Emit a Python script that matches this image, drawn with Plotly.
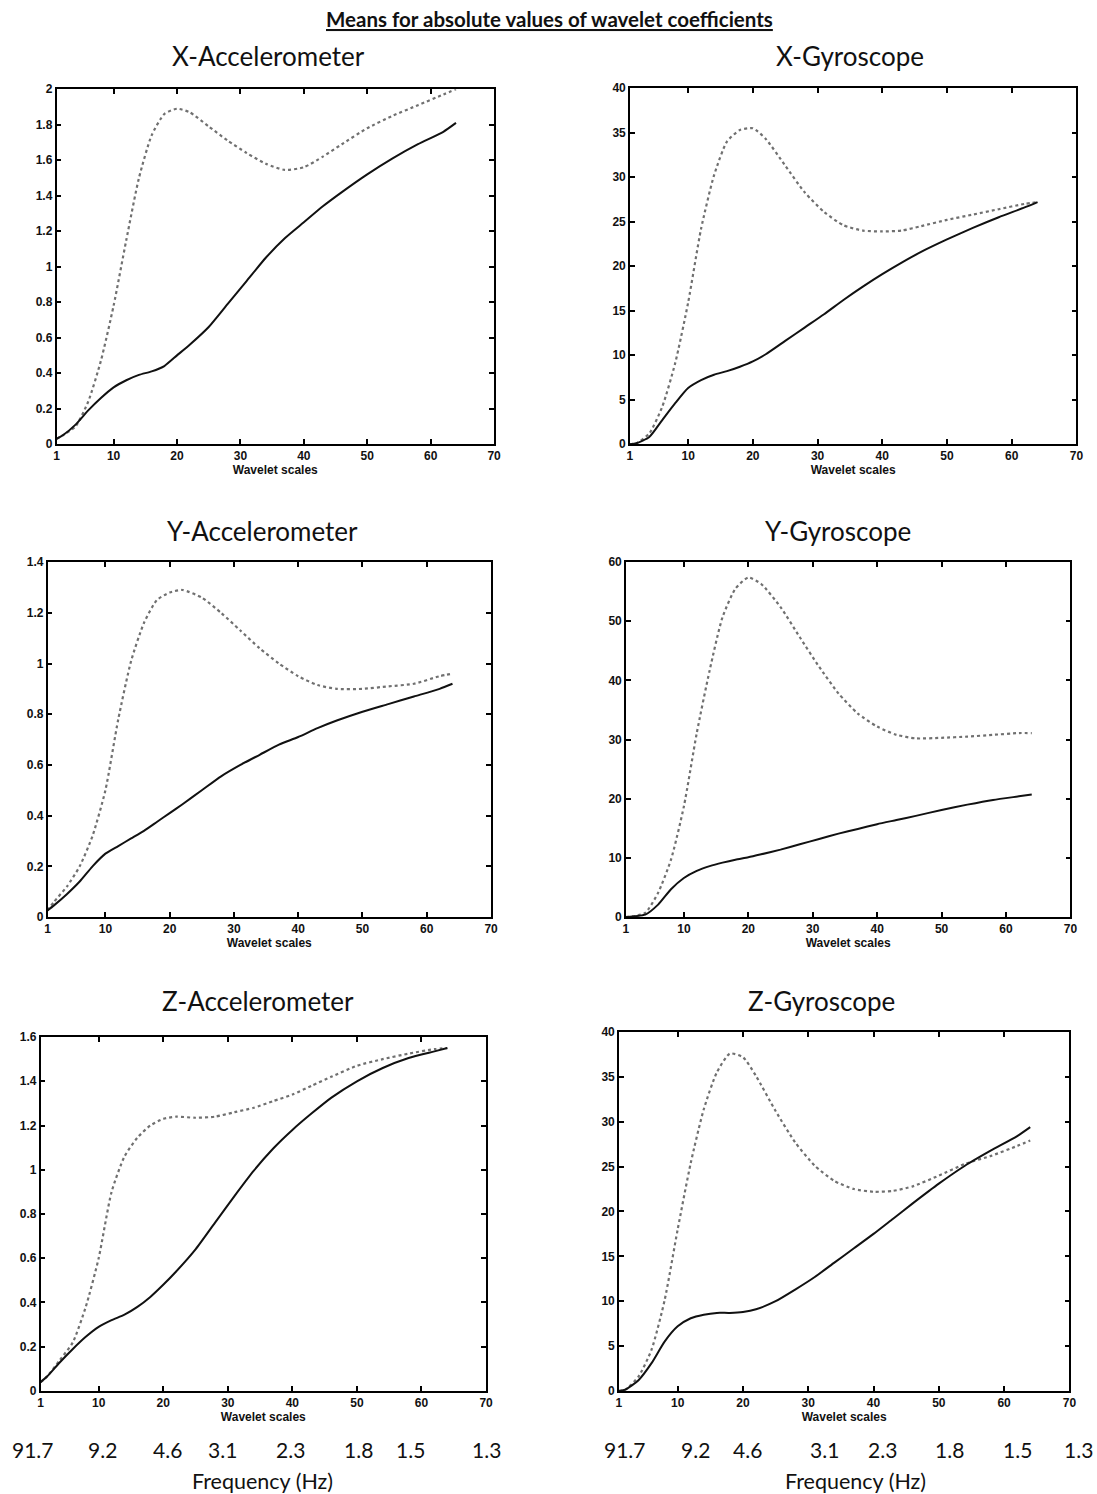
import plotly.graph_objects as go

# ---------------- data ----------------
scales = [1, 2, 4, 6, 8, 10, 12, 14, 16, 18, 20, 22, 25, 28, 31, 34, 37, 40, 43, 46, 50, 54, 58, 62, 64]

x_acc_solid = [0.03, 0.05, 0.11, 0.19, 0.26, 0.32, 0.36, 0.39, 0.41, 0.44, 0.50, 0.56, 0.66, 0.79, 0.92,
               1.05, 1.16, 1.25, 1.34, 1.42, 1.52, 1.61, 1.69, 1.76, 1.81]
x_acc_dot = [0.03, 0.05, 0.10, 0.24, 0.47, 0.78, 1.15, 1.50, 1.74, 1.86, 1.89, 1.87, 1.79, 1.71, 1.64,
             1.58, 1.545, 1.56, 1.62, 1.69, 1.78, 1.85, 1.91, 1.97, 2.0]

x_gyr_solid = [0.0, 0.1, 0.8, 2.7, 4.6, 6.3, 7.2, 7.8, 8.2, 8.7, 9.3, 10.1, 11.6, 13.1, 14.6,
               16.2, 17.7, 19.1, 20.4, 21.6, 23.0, 24.3, 25.5, 26.6, 27.2]
x_gyr_dot = [0.0, 0.1, 1.2, 4.2, 9.1, 15.9, 24.2, 30.2, 34.0, 35.3, 35.5, 34.3, 31.3, 28.3, 26.1,
             24.6, 24.0, 23.9, 24.0, 24.5, 25.2, 25.8, 26.4, 27.0, 27.2]

y_acc_solid = [0.026, 0.046, 0.09, 0.14, 0.20, 0.25, 0.28, 0.31, 0.34, 0.375, 0.41, 0.445, 0.50, 0.555, 0.60,
               0.64, 0.68, 0.71, 0.745, 0.775, 0.81, 0.84, 0.87, 0.90, 0.92]
y_acc_dot = [0.026, 0.06, 0.12, 0.20, 0.32, 0.50, 0.78, 1.01, 1.16, 1.25, 1.28, 1.29, 1.26, 1.20, 1.13,
             1.06, 1.00, 0.95, 0.915, 0.90, 0.90, 0.91, 0.92, 0.95, 0.96]

y_gyr_solid = [0.0, 0.1, 0.4, 2.1, 4.7, 6.6, 7.8, 8.6, 9.2, 9.7, 10.1, 10.6, 11.4, 12.3, 13.2,
               14.1, 14.9, 15.7, 16.4, 17.1, 18.1, 19.0, 19.8, 20.4, 20.7]
y_gyr_dot = [0.0, 0.1, 0.7, 4.1, 9.7, 18.7, 31.1, 41.7, 50.7, 55.5, 57.4, 56.3, 52.4, 47.3, 42.3,
             37.8, 34.4, 32.2, 30.8, 30.2, 30.3, 30.5, 30.8, 31.1, 31.1]

z_acc_solid = [0.04, 0.065, 0.13, 0.19, 0.245, 0.29, 0.32, 0.345, 0.38, 0.425, 0.48, 0.54, 0.64, 0.76, 0.88,
               0.995, 1.095, 1.18, 1.255, 1.325, 1.40, 1.46, 1.505, 1.535, 1.55]
z_acc_dot = [0.04, 0.065, 0.14, 0.22, 0.38, 0.60, 0.90, 1.06, 1.145, 1.20, 1.23, 1.24, 1.235, 1.24, 1.26,
             1.28, 1.31, 1.34, 1.38, 1.42, 1.47, 1.50, 1.525, 1.545, 1.55]

z_gyr_solid = [0.0, 0.15, 1.2, 3.1, 5.5, 7.2, 8.1, 8.5, 8.7, 8.7, 8.8, 9.1, 10.0, 11.3, 12.7,
               14.3, 15.9, 17.5, 19.2, 20.9, 23.1, 25.1, 26.8, 28.4, 29.4]
z_gyr_dot = [0.0, 0.15, 1.6, 4.6, 10.1, 18.0, 25.4, 31.4, 35.5, 37.6, 37.2, 35.1, 31.2, 27.7, 25.1,
             23.4, 22.5, 22.2, 22.3, 22.8, 24.0, 25.3, 26.2, 27.3, 27.9]

panel_titles = ["X-Accelerometer", "X-Gyroscope", "Y-Accelerometer", "Y-Gyroscope",
                "Z-Accelerometer", "Z-Gyroscope"]
x_tick_vals = [1, 10, 20, 30, 40, 50, 60, 70]
y_ranges = [2, 40, 1.4, 60, 1.6, 40]
y_dticks = [0.2, 5, 0.2, 10, 0.2, 5]
freq_labels = ["91.7", "9.2", "4.6", "3.1", "2.3", "1.8", "1.5", "1.3"]
main_title = "Means for absolute values of wavelet coefficients"

solids = [x_acc_solid, x_gyr_solid, y_acc_solid, y_gyr_solid, z_acc_solid, z_gyr_solid]
dots = [x_acc_dot, x_gyr_dot, y_acc_dot, y_gyr_dot, z_acc_dot, z_gyr_dot]

# ---------------- layout helpers (pixel boxes) ----------------
W, H = 1097, 1494
def px(x):
    return ((x - 2.4) / 0.992) / W
def py(y):
    return 1 - ((y - 5.8) / 0.9908) / H

boxes = [  # left, right, top, bottom in pixels
    (56, 494, 88, 443),
    (630, 1077, 87, 443),
    (47, 491, 561, 916),
    (626, 1071, 561, 916),
    (40, 486, 1036, 1390),
    (619, 1070, 1031, 1390),
]
title_pos = [(268, 55), (850, 55), (262, 530), (838, 530), (258, 1000), (822, 1000)]
freq_x_left = [32, 102, 167, 222, 290, 358, 410, 486]
freq_x_right = [625, 696, 748, 825, 883, 950, 1018, 1079]

fig = go.Figure()
layout = dict(
    width=W, height=H, autosize=False,
    margin=dict(l=0, r=0, t=0, b=0),
    paper_bgcolor="white", plot_bgcolor="white",
    showlegend=False,
)

tick_font = dict(family="Liberation Sans, Arial", size=12, color="#111", weight="bold")
annotations = []

for i in range(6):
    n = "" if i == 0 else str(i + 1)
    xa, ya = "x" + n, "y" + n
    l, r, t, b = boxes[i]
    fig.add_trace(go.Scatter(x=scales, y=dots[i], mode="lines", xaxis=xa, yaxis=ya,
                             line=dict(color="#707070", width=2.2, dash="dot", shape="spline", smoothing=0.6),
                             hoverinfo="skip"))
    fig.add_trace(go.Scatter(x=scales, y=solids[i], mode="lines", xaxis=xa, yaxis=ya,
                             line=dict(color="#111", width=2, shape="spline", smoothing=0.6),
                             hoverinfo="skip"))
    layout["xaxis" + n] = dict(
        domain=[px(l), px(r)], anchor=ya, range=[1, 70],
        tickmode="array", tickvals=x_tick_vals, ticktext=[str(v) for v in x_tick_vals],
        ticks="inside", ticklen=5, tickwidth=1.5, tickcolor="black",
        showline=True, linecolor="black", linewidth=1.5, mirror="ticks",
        showgrid=False, zeroline=False, tickfont=tick_font,
        title=dict(text="Wavelet scales",
                   font=dict(family="Liberation Sans, Arial", size=12, color="#111", weight="bold"),
                   standoff=2),
    )
    layout["yaxis" + n] = dict(
        domain=[py(b), py(t)], anchor=xa, range=[0, y_ranges[i]],
        dtick=y_dticks[i], tick0=0,
        ticks="inside", ticklen=5, tickwidth=1.5, tickcolor="black",
        showline=True, linecolor="black", linewidth=1.5, mirror="ticks",
        showgrid=False, zeroline=False, tickfont=tick_font,
    )
    tx, ty = title_pos[i]
    annotations.append(dict(text=panel_titles[i], x=px(tx), y=py(ty), xref="paper", yref="paper",
                            showarrow=False, xanchor="center", yanchor="middle",
                            font=dict(family="Lato, Open Sans", size=26, color="#111")))

annotations.append(dict(text="<b><u>" + main_title + "</u></b>", x=px(550), y=py(18), xref="paper", yref="paper",
                        showarrow=False, xanchor="center", yanchor="middle",
                        font=dict(family="Lato, Open Sans", size=20.5, color="#111")))

for xs in (freq_x_left, freq_x_right):
    for lab, fx in zip(freq_labels, xs):
        annotations.append(dict(text=lab, x=px(fx), y=py(1449), xref="paper", yref="paper",
                                showarrow=False, xanchor="center", yanchor="middle",
                                font=dict(family="Lato, Open Sans", size=21, color="#111")))
for fx in (262, 856):
    annotations.append(dict(text="Frequency (Hz)", x=px(fx), y=py(1480), xref="paper", yref="paper",
                            showarrow=False, xanchor="center", yanchor="middle",
                            font=dict(family="Lato, Open Sans", size=21.5, color="#111")))

layout["annotations"] = annotations
fig.update_layout(**layout)
fig.write_html("out.html", config={"displayModeBar": False},
               post_script="document.body.style.margin='0';")
